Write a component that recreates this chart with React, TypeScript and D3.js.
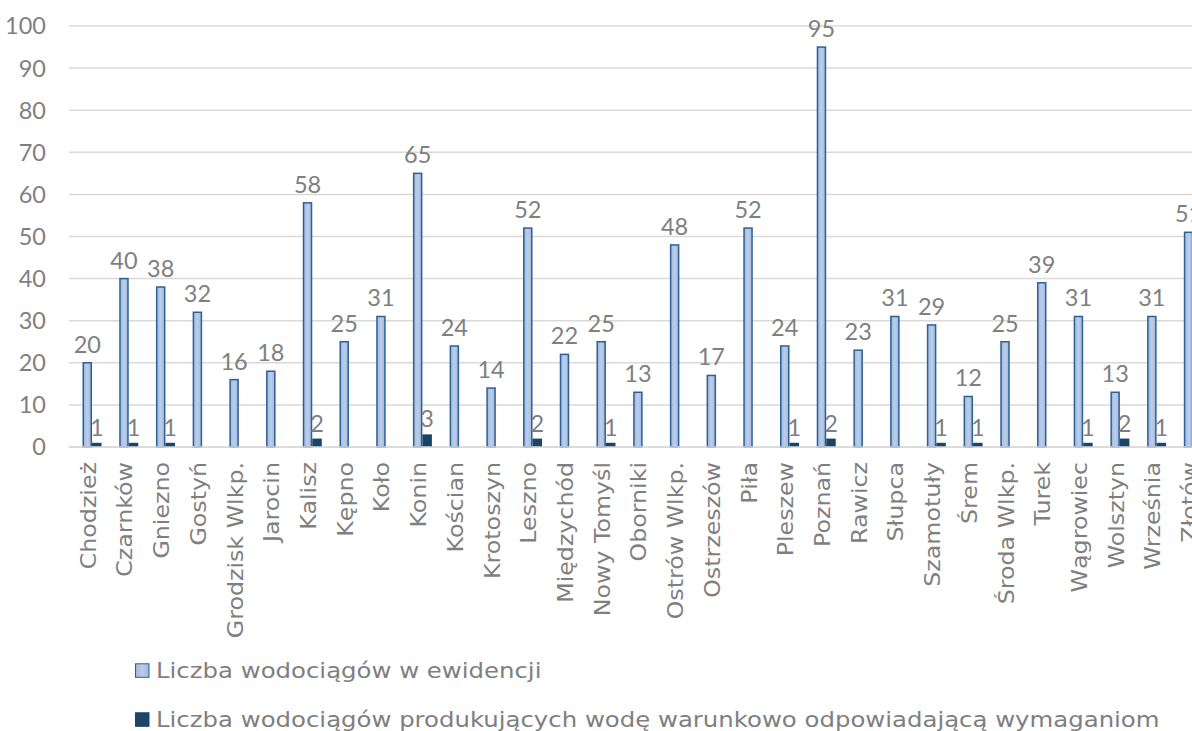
import React from "react";
import * as d3 from "d3";

// Powiaty (stacje sanitarno-epidemiologiczne)
const categories = [
  "Chodzież", "Czarnków", "Gniezno", "Gostyń", "Grodzisk Wlkp.", "Jarocin", "Kalisz",
  "Kępno", "Koło", "Konin", "Kościan", "Krotoszyn", "Leszno", "Międzychód",
  "Nowy Tomyśl", "Oborniki", "Ostrów Wlkp.", "Ostrzeszów", "Piła", "Pleszew",
  "Poznań", "Rawicz", "Słupca", "Szamotuły", "Śrem", "Środa Wlkp.", "Turek",
  "Wągrowiec", "Wolsztyn", "Września", "Złotów",
];

// Liczba wodociągów w ewidencji
const ewidencja = [
  20, 40, 38, 32, 16, 18, 58, 25, 31, 65, 24, 14, 52, 22, 25, 13, 48, 17, 52, 24,
  95, 23, 31, 29, 12, 25, 39, 31, 13, 31, 51,
];

// Liczba wodociągów produkujących wodę warunkowo odpowiadającą wymaganiom
const warunkowo: (number | null)[] = [
  1, 1, 1, null, null, null, 2, null, null, 3, null, null, 2, null, 1, null, null,
  null, null, 1, 2, null, null, 1, 1, null, null, 1, 2, 1, null,
];

const yTicks = [0, 10, 20, 30, 40, 50, 60, 70, 80, 90, 100];

const seriesNames = [
  "Liczba wodociągów w ewidencji",
  "Liczba wodociągów produkujących wodę warunkowo odpowiadającą wymaganiom",
];

const W = 1192;
const H = 731;
const WORD_FONT = "'DejaVu Sans', Verdana, sans-serif";
const NUM_FONT = "Lato, 'Open Sans', sans-serif";
const TEXT = "#7f7f7f";
// wide geometric lettering: stretch the word labels along their baseline
const LABEL_STRETCH = 1.13;
const LEGEND_STRETCH = 1.19;

export default function App() {
  const step = 36.71;
  const x = d3
    .scaleBand<string>()
    .domain(categories)
    .range([69, 69 + categories.length * step])
    .padding(0);
  const bw = x.bandwidth();
  const xSub = d3
    .scaleBand<string>()
    .domain(seriesNames)
    .range([bw * 0.368, bw * 0.886])
    .padding(0);
  const y = d3.scaleLinear().domain([0, 100]).range([447, 26]);

  return (
    <svg
      width={W}
      height={H}
      style={{ position: "absolute", left: 0, top: 0, background: "#fff" }}
    >
      <defs>
        <linearGradient id="lightBar" x1="0" x2="1" y1="0" y2="0">
          <stop offset="0" stopColor="#9db8de" />
          <stop offset="0.5" stopColor="#bccee9" />
          <stop offset="1" stopColor="#9db8de" />
        </linearGradient>
      </defs>

      {/* gridlines */}
      {yTicks.map((t) => (
        <line
          key={t}
          x1={69}
          x2={W}
          y1={y(t)}
          y2={y(t)}
          stroke="#d9d9d9"
          strokeWidth={1.5}
        />
      ))}

      {/* y tick labels */}
      {yTicks.map((t) => (
        <text
          key={"t" + t}
          x={46}
          y={y(t)}
          dy="0.36em"
          textAnchor="end"
          fontFamily={NUM_FONT}
          fontSize={23.5}
          fill={TEXT}
        >
          {t}
        </text>
      ))}

      {/* bars */}
      {categories.map((c, i) => {
        const x0 = x(c)!;
        const v1 = ewidencja[i];
        const v2 = warunkowo[i];
        const bx1 = x0 + xSub(seriesNames[0])!;
        const bx2 = x0 + xSub(seriesNames[1])!;
        const sw = xSub.bandwidth();
        return (
          <g key={c}>
            <rect
              x={bx1 + 0.75}
              y={y(v1)}
              width={sw - 1.5}
              height={y(0) - y(v1)}
              fill="url(#lightBar)"
              stroke="#2e6097"
              strokeWidth={1.5}
            />
            <text
              x={bx1 + sw / 2}
              y={y(v1) - 10}
              textAnchor="middle"
              fontFamily={NUM_FONT}
              fontSize={23.5}
              fill={TEXT}
            >
              {v1}
            </text>
            {v2 != null && (
              <>
                <rect
                  x={bx2}
                  y={y(v2)}
                  width={sw}
                  height={y(0) - y(v2)}
                  fill="#1b4567"
                />
                <text
                  x={bx2 + sw / 2}
                  y={y(v2) - 7}
                  textAnchor="middle"
                  fontFamily={NUM_FONT}
                  fontSize={23.5}
                  fill={TEXT}
                >
                  {v2}
                </text>
              </>
            )}
          </g>
        );
      })}

      {/* category axis line */}
      <line x1={69} x2={W} y1={y(0)} y2={y(0)} stroke="#d9d9d9" strokeWidth={1.5} />

      {/* category labels */}
      {categories.map((c) => {
        const cx = x(c)! + bw / 2;
        return (
          <text
            key={"l" + c}
            transform={`translate(${cx},462) rotate(-90) scale(${LABEL_STRETCH},1)`}
            textAnchor="end"
            dy="0.4em"
            fontFamily={WORD_FONT}
            fontSize={21}
            fill={TEXT}
          >
            {c}
          </text>
        );
      })}

      {/* legend */}
      {seriesNames.map((s, i) => {
        const base = 678.3 + i * 49;
        return (
          <g key={s}>
            <rect
              x={135.5}
              y={base - 14.5}
              width={13.5}
              height={13.5}
              fill={i === 0 ? "url(#lightBar)" : "#1b4567"}
              stroke={i === 0 ? "#2e6097" : "#1b4567"}
              strokeWidth={1}
            />
            <text
              transform={`translate(156,${base}) scale(${LEGEND_STRETCH},1)`}
              fontFamily={WORD_FONT}
              fontSize={20.5}
              fill={TEXT}
            >
              {s}
            </text>
          </g>
        );
      })}
    </svg>
  );
}
